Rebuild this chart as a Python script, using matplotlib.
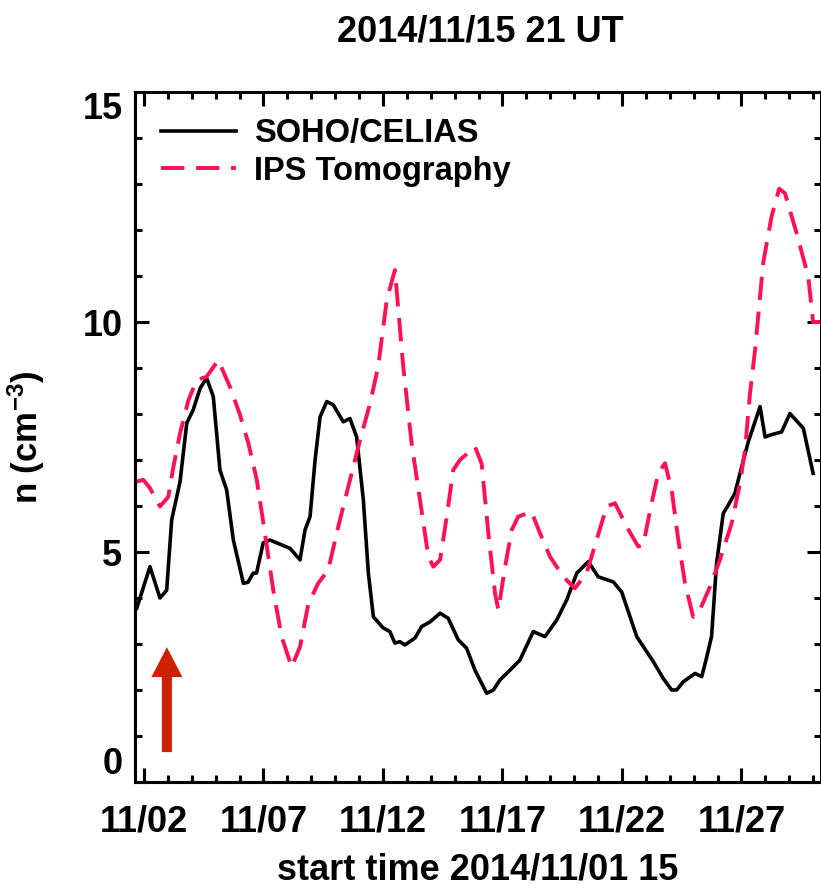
"""Solar wind density: SOHO/CELIAS vs IPS tomography, Nov 2014."""
import matplotlib
matplotlib.use('Agg')
import matplotlib.pyplot as plt
from matplotlib.ticker import MultipleLocator, FixedLocator

plt.rcParams.update({
    'font.family': ['Liberation Sans', 'DejaVu Sans'],
    'font.weight': 'bold',
    'mathtext.fontset': 'custom',
    'mathtext.rm': 'Liberation Sans:bold',
    'mathtext.bf': 'Liberation Sans:bold',
    'mathtext.default': 'bf',
})

RED = '#FF1050'
ARROW = '#CC2200'

# time axis in day-of-month (Nov 2014, UT as fraction of a day)
soho_day = [1.70, 2.25, 2.67, 2.95, 3.16, 3.51, 3.79, 4.06, 4.35, 4.62, 4.90, 5.18,
            5.46, 5.74, 6.16, 6.35, 6.57, 6.71, 6.99, 7.27, 8.11, 8.53, 8.74, 8.95,
            9.16, 9.37, 9.65, 9.92, 10.34, 10.62, 10.90, 11.18, 11.39, 11.60, 12.01,
            12.29, 12.50, 12.71, 12.92, 13.34, 13.62, 13.97, 14.39, 14.73, 15.15,
            15.50, 15.85, 16.34, 16.62, 16.90, 17.39, 17.73, 18.29, 18.78, 19.27,
            19.69, 20.11, 20.59, 21.01, 21.64, 21.99, 22.62, 23.31, 23.73, 24.08,
            24.29, 24.57, 25.06, 25.34, 25.55, 25.75, 25.96, 26.24, 26.45, 26.73,
            27.01, 27.29, 27.78, 27.99, 28.19, 28.68, 29.03, 29.59, 30.00]
soho_n = [3.78, 4.68, 4.00, 4.17, 5.70, 6.53, 7.80, 8.09, 8.56, 8.78, 8.38, 6.78,
          6.35, 5.26, 4.32, 4.34, 4.54, 4.54, 5.20, 5.26, 5.08, 4.83, 5.48, 5.77,
          7.00, 7.94, 8.27, 8.20, 7.83, 7.90, 7.50, 6.13, 4.54, 3.59, 3.35,
          3.27, 3.02, 3.05, 2.98, 3.13, 3.38, 3.48, 3.67, 3.56, 3.09,
          2.91, 2.43, 1.93, 2.00, 2.22, 2.47, 2.65, 3.27, 3.16, 3.52,
          3.96, 4.54, 4.79, 4.46, 4.35, 4.13, 3.16, 2.62, 2.25, 2.00,
          2.00, 2.18, 2.36, 2.29, 2.72, 3.16, 4.75, 5.84, 6.02, 6.28,
          6.85, 7.40, 8.16, 7.50, 7.54, 7.61, 8.01, 7.69, 6.71]

ips_day = [1.70, 1.97, 2.25, 2.67, 3.02, 3.23, 3.51, 3.86, 4.21, 4.62, 5.11, 5.60,
           6.02, 6.37, 6.72, 7.06, 7.41, 7.76, 8.18, 8.53, 8.88, 9.29, 9.71, 10.13,
           10.55, 11.04, 11.46, 11.80, 12.16, 12.50, 12.85, 13.20, 13.55, 13.90,
           14.11, 14.39, 14.67, 14.94, 15.22, 15.85, 16.13, 16.41, 16.69, 16.83,
           17.11, 17.39, 17.66, 18.22, 18.57, 18.99, 19.55, 20.03, 20.52, 20.94,
           21.36, 21.71, 22.20, 22.68, 22.89, 23.24, 23.52, 23.80, 24.08, 24.36,
           24.64, 24.98, 25.26, 25.68, 26.10, 26.59, 26.94, 27.15, 27.36, 27.57,
           27.91, 28.26, 28.58, 28.82, 29.31, 29.80, 30.00, 30.33]
ips_n = [6.53, 6.57, 6.39, 5.99, 6.20, 6.85, 7.58, 8.30, 8.74, 8.81, 9.17, 8.59,
         7.98, 7.36, 6.57, 5.41, 4.17, 3.16, 2.50, 2.94, 3.88, 4.32, 4.61, 5.55,
         6.42, 7.43, 8.23, 9.03, 10.48, 11.13, 9.03, 7.36, 6.13, 4.90,
         4.68, 4.83, 5.77, 6.78, 7.00, 7.29, 6.92, 5.41, 4.10, 3.74,
         4.68, 5.48, 5.77, 5.87, 5.41, 4.90, 4.46, 4.21, 4.54, 5.26,
         5.99, 6.06, 5.55, 5.12, 5.15, 6.06, 6.71, 6.93, 6.35, 5.26,
         4.32, 3.59, 3.74, 4.24, 4.83, 5.62, 6.49, 7.22, 8.45, 9.39,
         11.28, 12.29, 12.90, 12.80, 11.93, 10.98, 10.00, 10.00]

tick_days = [2, 7, 12, 17, 22, 27]
tick_labels = ['11/02', '11/07', '11/12', '11/17', '11/22', '11/27']
y_ticks = [0, 5, 10, 15]
x_start, x_end = 1.625, 30.33   # 2014/11/01 15 UT onwards

fig = plt.figure(figsize=(8.21, 8.93), dpi=100)
ax = fig.add_axes([135 / 821, 1 - 782 / 893, 1 - 135 / 821, 690 / 893])

ax.plot(soho_day, soho_n, color='black', lw=2.6, label='SOHO/CELIAS')
ax.plot(ips_day, ips_n, color=RED, lw=2.8, dashes=(6.0, 3.0), label='IPS Tomography')

# arrow marking the event start
ax.arrow(2.96, 0.65, 0, 2.28, width=0.42, head_width=1.3, head_length=0.65,
         length_includes_head=True, color=ARROW, lw=0)

ax.set_xlim(x_start, x_end)
ax.set_ylim(0, 15)
ax.xaxis.set_major_locator(FixedLocator(tick_days))
ax.set_xticklabels(tick_labels)
ax.xaxis.set_minor_locator(MultipleLocator(1))
ax.yaxis.set_major_locator(FixedLocator(y_ticks))
ax.set_yticklabels([str(v) for v in y_ticks])
ax.yaxis.set_minor_locator(MultipleLocator(1))
ax.tick_params(which='both', direction='in', top=True, right=True, width=2.2)
ax.tick_params(which='major', length=10, labelsize=26)
ax.tick_params(which='minor', length=5)
ax.tick_params(axis='x', pad=16)
ax.tick_params(axis='y', pad=9)
for s in ax.spines.values():
    s.set_linewidth(2.2)

yl = ax.get_yticklabels()
yl[0].set_va('bottom')
yl[-1].set_va('top')

ax.set_xlabel('start time 2014/11/01 15', fontsize=26, fontweight='bold', va='top')
ax.xaxis.set_label_coords(0.5, -0.102)
ax.set_ylabel('n (cm$^{-3}$)', fontsize=25, fontweight='bold')
ax.yaxis.set_label_coords(-0.128, 0.5)

ax.legend(loc='upper left', bbox_to_anchor=(0.038, 0.962), frameon=False,
          fontsize=23.5, handlelength=2.3, handletextpad=0.55, labelspacing=0.2,
          borderpad=0, borderaxespad=0)

fig.text(480 / 821, 1 - 32 / 893, '2014/11/15 21 UT', fontsize=26, fontweight='bold',
         ha='center', va='center')

plt.savefig('out.png', dpi=100, facecolor='white')
